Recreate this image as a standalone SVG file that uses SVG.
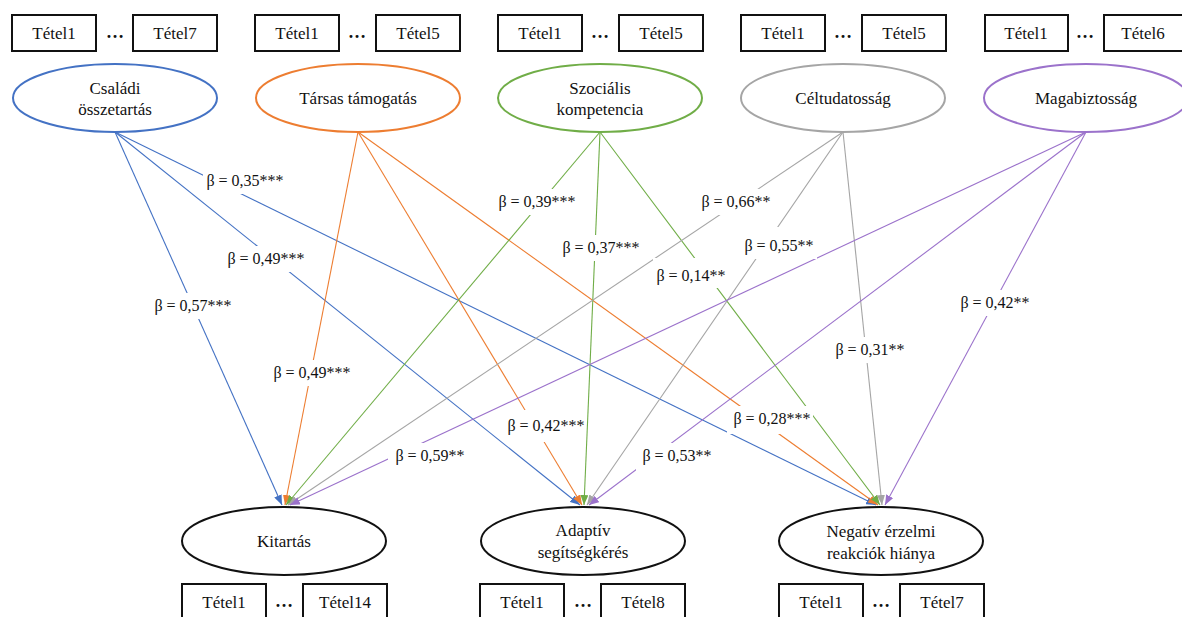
<svg xmlns="http://www.w3.org/2000/svg" width="1182" height="617" viewBox="0 0 1182 617">
  <style>
    text { font-family: "Liberation Serif", "Times New Roman", serif; font-size: 16px; fill: #111; }
    .mid { text-anchor: middle; }
    .nt { font-size: 17px; }
    .box { fill: #fff; stroke: #111; stroke-width: 2; }
    .lat { fill: #fff; stroke-width: 2; }
    .dots { font-weight: bold; font-size: 18px; }
    .lbl { fill: #fff; stroke: none; }
    .c-blue { stroke: #4472C4; }
    .c-orange { stroke: #ED7D31; }
    .c-green { stroke: #70AD47; }
    .c-grey { stroke: #A5A5A5; }
    .c-purple { stroke: #9B72CB; }
    .black { stroke: #111; }
    #connectors line { stroke-width: 1.1; fill: none; }
  </style>
  <defs>
    <marker id="ah-blue" markerUnits="userSpaceOnUse" markerWidth="10" markerHeight="8" refX="10" refY="4" orient="auto"><path d="M0,0 L10,4 L0,8 z" fill="#4472C4"/></marker>
    <marker id="ah-orange" markerUnits="userSpaceOnUse" markerWidth="10" markerHeight="8" refX="10" refY="4" orient="auto"><path d="M0,0 L10,4 L0,8 z" fill="#ED7D31"/></marker>
    <marker id="ah-green" markerUnits="userSpaceOnUse" markerWidth="10" markerHeight="8" refX="10" refY="4" orient="auto"><path d="M0,0 L10,4 L0,8 z" fill="#70AD47"/></marker>
    <marker id="ah-grey" markerUnits="userSpaceOnUse" markerWidth="10" markerHeight="8" refX="10" refY="4" orient="auto"><path d="M0,0 L10,4 L0,8 z" fill="#A5A5A5"/></marker>
    <marker id="ah-purple" markerUnits="userSpaceOnUse" markerWidth="10" markerHeight="8" refX="10" refY="4" orient="auto"><path d="M0,0 L10,4 L0,8 z" fill="#9B72CB"/></marker>
  </defs>

  <rect width="1182" height="617" fill="#fff"/>

  <!-- indicator items of the predictors -->
  <g id="items-top" class="nt">
    <rect class="box" x="12" y="15" width="84" height="36"/><text class="mid nt" x="54" y="39">Tétel1</text>
    <text class="mid dots" x="115" y="38">…</text>
    <rect class="box" x="133" y="15" width="84" height="36"/><text class="mid nt" x="175" y="39">Tétel7</text>

    <rect class="box" x="255" y="15" width="84" height="36"/><text class="mid nt" x="297" y="39">Tétel1</text>
    <text class="mid dots" x="357" y="38">…</text>
    <rect class="box" x="376" y="15" width="84" height="36"/><text class="mid nt" x="418" y="39">Tétel5</text>

    <rect class="box" x="498" y="15" width="84" height="36"/><text class="mid nt" x="540" y="39">Tétel1</text>
    <text class="mid dots" x="600" y="38">…</text>
    <rect class="box" x="619" y="15" width="84" height="36"/><text class="mid nt" x="661" y="39">Tétel5</text>

    <rect class="box" x="741" y="15" width="84" height="36"/><text class="mid nt" x="783" y="39">Tétel1</text>
    <text class="mid dots" x="843" y="38">…</text>
    <rect class="box" x="862" y="15" width="84" height="36"/><text class="mid nt" x="904" y="39">Tétel5</text>

    <rect class="box" x="985" y="15" width="83" height="36"/><text class="mid nt" x="1026" y="39">Tétel1</text>
    <text class="mid dots" x="1085" y="38">…</text>
    <rect class="box" x="1104" y="15" width="84" height="36"/><text class="mid nt" x="1143" y="39">Tétel6</text>
  </g>

  <!-- predictor latent variables -->
  <g id="node-csaladi">
    <ellipse class="lat c-blue" cx="115" cy="98" rx="102" ry="34"/>
    <text class="mid nt" x="115" y="94">Családi</text>
    <text class="mid nt" x="115" y="115">összetartás</text>
  </g>
  <g id="node-tarsas">
    <ellipse class="lat c-orange" cx="358" cy="98" rx="102" ry="34"/>
    <text class="mid nt" x="358" y="104">Társas támogatás</text>
  </g>
  <g id="node-szocialis">
    <ellipse class="lat c-green" cx="600" cy="98" rx="102" ry="34"/>
    <text class="mid nt" x="600" y="94">Szociális</text>
    <text class="mid nt" x="600" y="115">kompetencia</text>
  </g>
  <g id="node-celtudatossag">
    <ellipse class="lat c-grey" cx="843" cy="98" rx="102" ry="34"/>
    <text class="mid nt" x="843" y="104">Céltudatosság</text>
  </g>
  <g id="node-magabiztossag">
    <ellipse class="lat c-purple" cx="1086" cy="98" rx="102" ry="34"/>
    <text class="mid nt" x="1086" y="104">Magabiztosság</text>
  </g>

  <!-- regression paths -->
  <g id="connectors">
    <line class="c-blue" x1="115" y1="132" x2="282" y2="505" marker-end="url(#ah-blue)"/>
    <line class="c-blue" x1="115" y1="132" x2="580" y2="505" marker-end="url(#ah-blue)"/>
    <line class="c-blue" x1="115" y1="132" x2="876" y2="505" marker-end="url(#ah-blue)"/>

    <line class="c-orange" x1="358" y1="132" x2="285" y2="505" marker-end="url(#ah-orange)"/>
    <line class="c-orange" x1="358" y1="132" x2="582" y2="505" marker-end="url(#ah-orange)"/>
    <line class="c-orange" x1="358" y1="132" x2="878" y2="505" marker-end="url(#ah-orange)"/>

    <line class="c-green" x1="600" y1="132" x2="286" y2="505" marker-end="url(#ah-green)"/>
    <line class="c-green" x1="600" y1="132" x2="584" y2="505" marker-end="url(#ah-green)"/>
    <line class="c-green" x1="600" y1="132" x2="880" y2="505" marker-end="url(#ah-green)"/>

    <line class="c-grey" x1="843" y1="132" x2="288" y2="505" marker-end="url(#ah-grey)"/>
    <line class="c-grey" x1="843" y1="132" x2="587" y2="505" marker-end="url(#ah-grey)"/>
    <line class="c-grey" x1="843" y1="132" x2="882" y2="505" marker-end="url(#ah-grey)"/>

    <line class="c-purple" x1="1086" y1="132" x2="290" y2="505" marker-end="url(#ah-purple)"/>
    <line class="c-purple" x1="1086" y1="132" x2="589" y2="505" marker-end="url(#ah-purple)"/>
    <line class="c-purple" x1="1086" y1="132" x2="885" y2="505" marker-end="url(#ah-purple)"/>
  </g>

  <!-- path coefficients -->
  <g id="coefficients">
    <rect class="lbl" x="203" y="168" width="84" height="26"/><text class="mid" x="245" y="186">β = 0,35***</text>
    <rect class="lbl" x="224" y="246" width="85" height="26"/><text class="mid" x="266" y="264">β = 0,49***</text>
    <rect class="lbl" x="151" y="293" width="85" height="26"/><text class="mid" x="193" y="311">β = 0,57***</text>
    <rect class="lbl" x="269" y="360" width="86" height="26"/><text class="mid" x="312" y="378">β = 0,49***</text>
    <rect class="lbl" x="503" y="410" width="82" height="32"/><text class="mid" x="546" y="431">β = 0,42***</text>
    <rect class="lbl" x="727" y="406" width="86" height="28"/><text class="mid" x="772" y="424">β = 0,28***</text>
    <rect class="lbl" x="495" y="189" width="84" height="26"/><text class="mid" x="537" y="207">β = 0,39***</text>
    <rect class="lbl" x="558" y="235" width="86" height="26"/><text class="mid" x="601" y="253">β = 0,37***</text>
    <rect class="lbl" x="653" y="258" width="76" height="30"/><text class="mid" x="691" y="281">β = 0,14**</text>
    <rect class="lbl" x="698" y="189" width="76" height="26"/><text class="mid" x="736" y="207">β = 0,66**</text>
    <rect class="lbl" x="741" y="227" width="76" height="32"/><text class="mid" x="779" y="251">β = 0,55**</text>
    <rect class="lbl" x="832" y="337" width="76" height="26"/><text class="mid" x="870" y="355">β = 0,31**</text>
    <rect class="lbl" x="957" y="290" width="76" height="26"/><text class="mid" x="995" y="308">β = 0,42**</text>
    <rect class="lbl" x="388" y="443" width="80" height="26"/><text class="mid" x="430" y="461">β = 0,59**</text>
    <rect class="lbl" x="636" y="443" width="78" height="28"/><text class="mid" x="677" y="461">β = 0,53**</text>
  </g>

  <!-- outcome latent variables -->
  <g id="node-kitartas">
    <ellipse class="lat black" cx="284" cy="541" rx="102" ry="34"/>
    <text class="mid nt" x="284" y="547">Kitartás</text>
  </g>
  <g id="node-adaptiv">
    <ellipse class="lat black" cx="583" cy="541" rx="102" ry="34"/>
    <text class="mid nt" x="583" y="536">Adaptív</text>
    <text class="mid nt" x="583" y="558">segítségkérés</text>
  </g>
  <g id="node-negativ">
    <ellipse class="lat black" cx="881" cy="541" rx="102" ry="34"/>
    <text class="mid nt" x="881" y="537">Negatív érzelmi</text>
    <text class="mid nt" x="881" y="559">reakciók hiánya</text>
  </g>

  <!-- indicator items of the outcomes -->
  <g id="items-bottom">
    <rect class="box" x="182" y="584" width="84" height="38"/><text class="mid nt" x="224" y="608">Tétel1</text>
    <text class="mid dots" x="284" y="607">…</text>
    <rect class="box" x="303" y="584" width="84" height="38"/><text class="mid nt" x="345" y="608">Tétel14</text>

    <rect class="box" x="480" y="584" width="84" height="38"/><text class="mid nt" x="522" y="608">Tétel1</text>
    <text class="mid dots" x="583" y="607">…</text>
    <rect class="box" x="601" y="584" width="84" height="38"/><text class="mid nt" x="643" y="608">Tétel8</text>

    <rect class="box" x="779" y="584" width="84" height="38"/><text class="mid nt" x="821" y="608">Tétel1</text>
    <text class="mid dots" x="881" y="607">…</text>
    <rect class="box" x="900" y="584" width="84" height="38"/><text class="mid nt" x="942" y="608">Tétel7</text>
  </g>
</svg>
